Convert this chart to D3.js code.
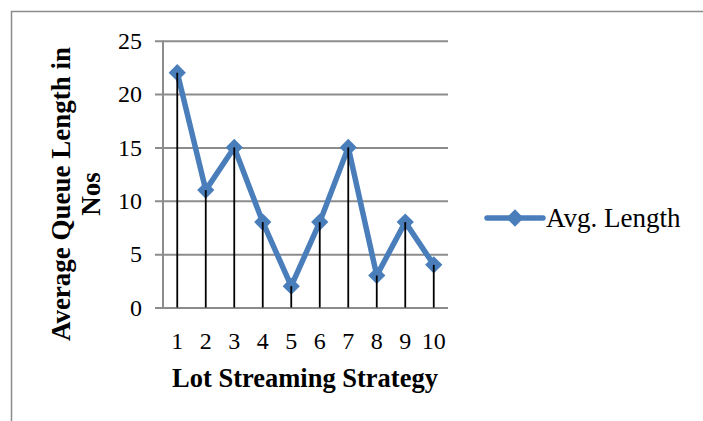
<!DOCTYPE html>
<html>
<head>
<meta charset="utf-8">
<script src="https://cdn.jsdelivr.net/npm/d3@7/dist/d3.min.js"></script>
<style>
  html, body { margin: 0; padding: 0; background: #fff; }
  svg { display: block; font-family: "Liberation Serif", "Times New Roman", serif; }
</style>
</head>
<body>
<svg id="chart" width="703" height="421"></svg>
<script>
// Lot streaming strategies and average queue length for each
const strategies = ["1", "2", "3", "4", "5", "6", "7", "8", "9", "10"];
const avgLength = [22, 11, 15, 8, 2, 8, 15, 3, 8, 4];
const yTicks = [0, 5, 10, 15, 20, 25];
const seriesName = "Avg. Length";

const svg = d3.select("#chart");
const lineColor = "#4a7ebb";
const gridColor = "#8c8c8c";

// outer chart frame
svg.append("rect")
  .attr("x", 11.5).attr("y", 11.5)
  .attr("width", 720).attr("height", 440)
  .attr("fill", "none").attr("stroke", gridColor).attr("stroke-width", 1.5);

const plot = { left: 163, right: 448, top: 40.7, bottom: 307.5 };

const x = d3.scaleBand().domain(strategies).range([plot.left, plot.right]);
const y = d3.scaleLinear().domain([0, 25]).range([plot.bottom, plot.top]);

// horizontal gridlines, running from the right edge through the axis to outward tick marks
const yAxis = d3.axisLeft(y).tickValues(yTicks).tickSize(plot.right - plot.left + 8).tickPadding(0);
const gy = svg.append("g").attr("transform", `translate(${plot.right},0)`);
gy.call(yAxis);
gy.select(".domain").remove();
gy.selectAll(".tick line").attr("stroke", gridColor).attr("stroke-width", 2);
gy.selectAll(".tick text").remove();

// y tick labels
svg.append("g").selectAll("text").data(yTicks).join("text")
  .attr("x", 142).attr("y", d => y(d))
  .attr("dy", "0.34em")
  .attr("text-anchor", "end")
  .attr("font-size", 24)
  .attr("fill", "#000")
  .text(d => d);

// vertical axis line
svg.append("line")
  .attr("x1", plot.left).attr("x2", plot.left)
  .attr("y1", plot.top).attr("y2", plot.bottom)
  .attr("stroke", gridColor).attr("stroke-width", 2);

// category labels
const xAxis = d3.axisBottom(x).tickSize(0).tickPadding(0);
const gx = svg.append("g").attr("transform", `translate(0,${plot.bottom})`).call(xAxis);
gx.select(".domain").remove();
gx.selectAll(".tick text")
  .attr("y", 41)
  .attr("dy", 0)
  .attr("font-size", 24)
  .attr("font-family", "Liberation Serif, serif")
  .attr("fill", "#000");

const cx = d => x(d) + x.bandwidth() / 2;
const pts = strategies.map((s, i) => ({ s, v: avgLength[i] }));

// series line
const line = d3.line().x(d => cx(d.s)).y(d => y(d.v));
svg.append("path").datum(pts)
  .attr("d", line)
  .attr("fill", "none")
  .attr("stroke", lineColor)
  .attr("stroke-width", 5.5)
  .attr("stroke-linejoin", "round")
  .attr("stroke-linecap", "round");

// diamond markers
const diamond = d3.symbol().type(d3.symbolDiamond2).size(190);
svg.append("g").selectAll("path").data(pts).join("path")
  .attr("transform", d => `translate(${cx(d.s)},${y(d.v)})`)
  .attr("d", diamond)
  .attr("fill", lineColor);

// drop lines from each point down to the baseline
svg.append("g").selectAll("line").data(pts).join("line")
  .attr("x1", d => cx(d.s)).attr("x2", d => cx(d.s))
  .attr("y1", d => y(d.v)).attr("y2", plot.bottom)
  .attr("stroke", "#000").attr("stroke-width", 1.8);

// axis titles
svg.append("text")
  .attr("x", 305).attr("y", 387)
  .attr("text-anchor", "middle")
  .attr("font-size", 26.5).attr("font-weight", "bold")
  .text("Lot Streaming Strategy");

const yTitle = svg.append("text")
  .attr("transform", "translate(0,194) rotate(-90)")
  .attr("text-anchor", "middle")
  .attr("font-size", 27).attr("font-weight", "bold");
yTitle.append("tspan").attr("x", 0).attr("y", 70).text("Average Queue Length in");
yTitle.append("tspan").attr("x", 0).attr("y", 100).text("Nos");

// legend
const lg = svg.append("g").attr("transform", "translate(487,218)");
lg.append("line").attr("x1", 0).attr("x2", 56).attr("y1", 0).attr("y2", 0)
  .attr("stroke", lineColor).attr("stroke-width", 5.5).attr("stroke-linecap", "round");
lg.append("path").attr("transform", "translate(28,0)")
  .attr("d", diamond).attr("fill", lineColor);
lg.append("text").attr("x", 59).attr("y", 0).attr("dy", "0.35em")
  .attr("font-size", 27).text(seriesName);
</script>
</body>
</html>
